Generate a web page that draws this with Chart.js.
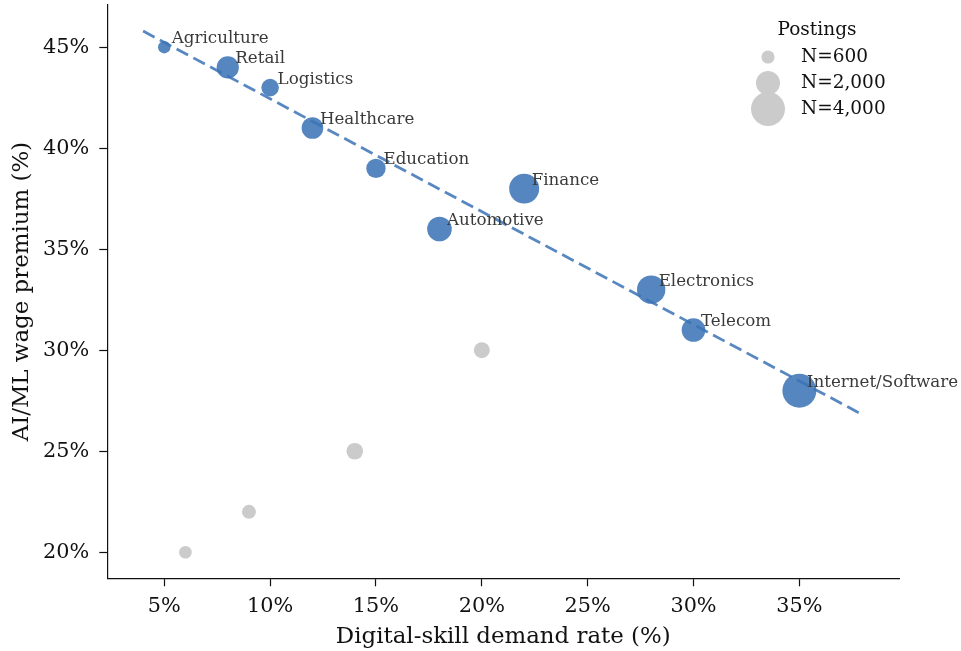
<!DOCTYPE html>
<html>
<head>
<meta charset="utf-8">
<script src="https://cdn.jsdelivr.net/npm/chart.js@4.4.1/dist/chart.umd.min.js"></script>
<style>
    html, body { margin: 0; padding: 0; background: #fff; }
    #wrap { width: 961px; height: 651px; }
</style>
</head>
<body>
<div id="wrap"><canvas id="chart" width="961" height="651"></canvas></div>
<script>
// Sectors on the trend (blue)
const sectors = ["Agriculture", "Retail", "Logistics", "Healthcare", "Education",
    "Automotive", "Finance", "Electronics", "Telecom", "Internet/Software"];
const sectorDemand = [5, 8, 10, 12, 15, 18, 22, 28, 30, 35];
const sectorPremium = [45, 44, 43, 41, 39, 36, 38, 33, 31, 28];
const sectorPostings = [530, 1700, 1070, 1620, 1300, 2100, 3100, 2780, 1940, 4000];

// Unlabelled grey points
const otherDemand = [6, 9, 14, 20];
const otherPremium = [20, 22, 25, 30];
const otherPostings = [550, 680, 960, 880];

// Dashed fit line end points
const trendDemand = [4, 38];
const trendPremium = [45.8, 26.8];

const xTicks = [5, 10, 15, 20, 25, 30, 35];
const yTicks = [20, 25, 30, 35, 40, 45];

const legendPostings = [600, 2000, 4000];
const legendLabels = ["N=600", "N=2,000", "N=4,000"];

const FONT = "'DejaVu Serif', serif";
const BLUE = "rgba(47, 107, 177, 0.82)";
const GREY = "rgb(203, 203, 203)";

// marker area proportional to postings
function radiusFor(n) {
    return 17 * Math.sqrt(n / 4000);
}

function toPoints(xs, ys, ns) {
    return xs.map((x, i) => ({ x: x, y: ys[i], r: ns ? radiusFor(ns[i]) : 0 }));
}

/* -------------------------------
   Text labels next to blue points
---------------------------------*/
const sectorLabels = {
    id: "sectorLabels",
    afterDatasetsDraw(chart) {
        const meta = chart.getDatasetMeta(1);
        const ctx = chart.ctx;
        ctx.save();
        ctx.font = "16.7px " + FONT;
        ctx.fillStyle = "#3a3a3a";
        ctx.textAlign = "left";
        ctx.textBaseline = "alphabetic";
        meta.data.forEach((el, i) => {
            ctx.fillText(sectors[i], el.x + 7.5, el.y - 4);
        });
        ctx.restore();
    }
};

/* -------------------------------
   Size legend (top right)
---------------------------------*/
const sizeLegend = {
    id: "sizeLegend",
    afterDraw(chart) {
        const ctx = chart.ctx;
        ctx.save();
        ctx.font = "18.5px " + FONT;
        ctx.fillStyle = "#111";
        ctx.textAlign = "center";
        ctx.textBaseline = "middle";
        ctx.fillText("Postings", 817, 30);
        const rowY = [57, 83, 109];
        legendPostings.forEach((n, i) => {
            ctx.beginPath();
            ctx.fillStyle = GREY;
            ctx.arc(768, rowY[i], radiusFor(n), 0, Math.PI * 2);
            ctx.fill();
        });
        ctx.fillStyle = "#111";
        ctx.textAlign = "left";
        legendLabels.forEach((t, i) => {
            ctx.fillText(t, 801, rowY[i]);
        });
        ctx.restore();
    }
};

const axisStyle = {
    grid: { drawOnChartArea: false, drawTicks: true, tickLength: 8, tickColor: "#111", tickWidth: 1.2 },
    border: { display: true, color: "#111", width: 1.2 }
};

new Chart(document.getElementById("chart").getContext("2d"), {
    type: "bubble",
    data: {
        datasets: [
            {
                type: "line",
                label: "Fit",
                data: toPoints(trendDemand, trendPremium),
                borderColor: "rgba(60, 115, 182, 0.85)",
                borderWidth: 2.8,
                borderDash: [13, 6],
                pointRadius: 0,
                fill: false
            },
            {
                label: "Sectors",
                data: toPoints(sectorDemand, sectorPremium, sectorPostings),
                backgroundColor: BLUE,
                borderWidth: 0
            },
            {
                label: "Other",
                data: toPoints(otherDemand, otherPremium, otherPostings),
                backgroundColor: GREY,
                borderWidth: 0
            }
        ]
    },
    options: {
        responsive: false,
        devicePixelRatio: 1,
        animation: false,
        clip: false,
        layout: { autoPadding: false, padding: { top: 5, right: 61.7, bottom: 0, left: 0 } },
        plugins: {
            legend: { display: false },
            tooltip: { enabled: false }
        },
        scales: {
            x: {
                type: "linear",
                min: 2.31,
                max: 39.72,
                ...axisStyle,
                afterBuildTicks: (scale) => { scale.ticks = xTicks.map(v => ({ value: v })); },
                afterFit: (scale) => {
                    scale.height = 72.7;
                    scale.paddingLeft = 0;
                    scale.paddingRight = 0;
                },
                ticks: {
                    padding: 8,
                    color: "#111",
                    font: { family: FONT, size: 20.8 },
                    callback: (v) => v + "%"
                },
                title: {
                    display: true,
                    text: "Digital-skill demand rate (%)",
                    color: "#111",
                    font: { family: FONT, size: 22.9 },
                    padding: { top: 0, bottom: 0 }
                }
            },
            y: {
                type: "linear",
                min: 18.71,
                max: 47.09,
                ...axisStyle,
                afterBuildTicks: (scale) => { scale.ticks = yTicks.map(v => ({ value: v })); },
                afterFit: (scale) => {
                    scale.width = 107.3;
                    scale.paddingTop = 0;
                    scale.paddingBottom = 0;
                },
                ticks: {
                    padding: 10,
                    color: "#111",
                    font: { family: FONT, size: 20.8 },
                    callback: (v) => v + "%"
                },
                title: {
                    display: true,
                    text: "AI/ML wage premium (%)",
                    color: "#111",
                    font: { family: FONT, size: 22.9 },
                    padding: { top: 8, bottom: 0 }
                }
            }
        }
    },
    plugins: [sectorLabels, sizeLegend]
});
</script>
</body>
</html>
